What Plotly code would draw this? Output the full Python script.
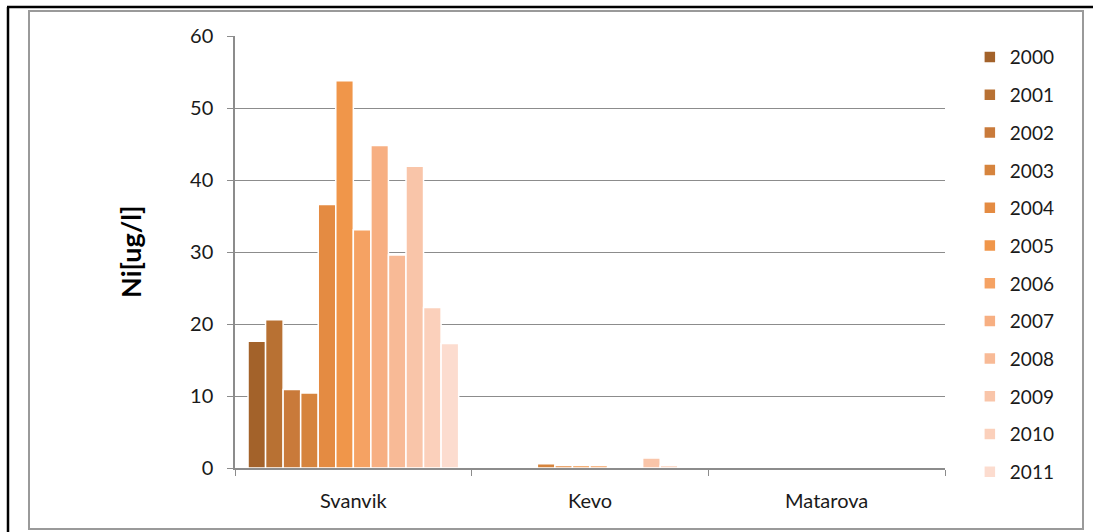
import plotly.graph_objects as go

stations = ["Svanvik", "Kevo", "Matarova"]
years = ["2000", "2001", "2002", "2003", "2004", "2005",
         "2006", "2007", "2008", "2009", "2010", "2011"]
svanvik = [17.6, 20.6, 10.9, 10.4, 36.6, 53.8, 33.1, 44.8, 29.6, 41.9, 22.3, 17.3]
kevo = [0.05, 0.05, 0.05, 0.6, 0.35, 0.35, 0.35, 0.05, 0.05, 1.4, 0.35, 0.05]
matarova = [0.05, 0.05, 0.05, 0.05, 0.05, 0.05, 0.05, 0.05, 0.05, 0.05, 0.05, 0.05]
colors = ["#A3622A", "#B87133", "#C97A3A", "#D6843D", "#E48B42", "#F0964A",
          "#F5A263", "#F7AF82", "#F8BA96", "#F9C5A9", "#FBD0BB", "#FCDCCF"]

FONT = "Lato, Carlito, Calibri, 'Open Sans', sans-serif"
GRID = "#8C8C8C"

fig = go.Figure()
for i, yr in enumerate(years):
    fig.add_trace(go.Bar(
        x=stations,
        y=[svanvik[i], kevo[i], matarova[i]],
        name=yr,
        legendgroup=yr,
        marker=dict(color=colors[i], line=dict(color="white", width=1.5)),
    ))

fig.update_layout(
    width=1093, height=532,
    margin=dict(l=235, r=148, t=36, b=64),
    paper_bgcolor="white", plot_bgcolor="white",
    barmode="group", bargap=0.11, bargroupgap=0,
    font=dict(family=FONT, size=19, color="#1a1a1a"),
    showlegend=True,
    legend=dict(
        x=1.035, y=0.995, xanchor="left", yanchor="top",
        font=dict(family=FONT, size=19, color="#1a1a1a"),
        traceorder="grouped", tracegroupgap=10,
        itemwidth=30, bgcolor="rgba(0,0,0,0)", maxheight=700,
    ),
    xaxis=dict(
        showline=True, linecolor=GRID, linewidth=1.5,
        ticks="outside", tickson="boundaries", ticklen=6, tickcolor=GRID,
        ticklabelstandoff=14, showgrid=False,
        tickfont=dict(family=FONT, size=20),
    ),
    yaxis=dict(
        range=[0, 60], dtick=10, showline=True, linecolor=GRID, linewidth=1.5,
        ticks="outside", ticklen=6, tickcolor=GRID,
        showgrid=True, gridcolor=GRID, gridwidth=1.2,
        zeroline=False, ticklabelstandoff=10,
        tickfont=dict(family=FONT, size=20),
    ),
    annotations=[dict(
        text="<b>Ni[ug/l]</b>", xref="paper", yref="paper",
        x=-0.148, y=0.5, textangle=-90, showarrow=False,
        font=dict(family=FONT, size=27, color="#000000"),
        xanchor="center", yanchor="middle",
    )],
    shapes=[
        dict(type="rect", xref="paper", yref="paper",
             x0=(29 - 235) / 710, x1=(1083 - 235) / 710,
             y0=(468 - 529) / 432, y1=(468 - 11) / 432,
             line=dict(color="#9A9A9A", width=2), layer="below"),
        dict(type="line", xref="paper", yref="paper",
             x0=(7 - 235) / 710, x1=(1093 - 235) / 710,
             y0=(468 - 7) / 432, y1=(468 - 7) / 432,
             line=dict(color="black", width=2.5)),
        dict(type="line", xref="paper", yref="paper",
             x0=(8 - 235) / 710, x1=(8 - 235) / 710,
             y0=(468 - 7) / 432, y1=(468 - 540) / 432,
             line=dict(color="black", width=2.5)),
    ],
)

fig.write_html("out.html", config={"displayModeBar": False},
               post_script="document.body.style.margin='0';")
